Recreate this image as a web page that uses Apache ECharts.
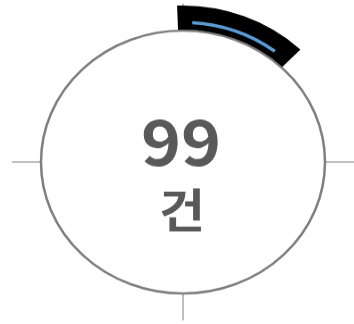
<!DOCTYPE html>
<html>
<head>
<meta charset="utf-8">
<script src="https://cdn.jsdelivr.net/npm/echarts@6/dist/echarts.min.js"></script>
<style>
  html, body { margin: 0; padding: 0; background: #fff; overflow: hidden; }
  /* 원본 그림이 세로로 살짝 눌려 있어서 350 높이로 그리고 줄임 */
  #chartDom { width: 354px; height: 350px; transform: scaleY(0.9257); transform-origin: 0 0; }
</style>
</head>
<body>
<div id="chartDom"></div>
<script>
// 데이터
const count = 99;
const unit = "건";
const outerArc = [46];   // 검은 호 (각도)
const innerGap = [5.5];  // 파란 선 앞 빈 구간
const innerArc = [34];   // 파란 선 (각도)
const cats = ["a"];

const center = [183, 175];

let myChart = echarts.init(document.getElementById("chartDom"));
myChart.setOption({
  animation: false,
  polar: [
    { center: center, radius: 142 },
    { center: center, radius: [143, 169] },
    { center: center, radius: [149, 152.5] }
  ],
  angleAxis: [
    {
      polarIndex: 0,
      type: "value",
      min: 0,
      max: 360,
      interval: 90,
      startAngle: 90,
      axisLine: { lineStyle: { color: "#7f7f7f", width: 2.5 } },
      axisTick: { show: true, length: 29, lineStyle: { color: "#bfbfbf", width: 2 } },
      axisLabel: { show: false },
      splitLine: { show: false }
    },
    { polarIndex: 1, type: "value", min: 0, max: 360, startAngle: 92, show: false },
    { polarIndex: 2, type: "value", min: 0, max: 360, startAngle: 92, show: false }
  ],
  radiusAxis: [
    { polarIndex: 0, type: "value", show: false },
    { polarIndex: 1, type: "category", data: cats, show: false },
    { polarIndex: 2, type: "category", data: cats, show: false }
  ],
  series: [
    {
      type: "bar",
      coordinateSystem: "polar",
      polarIndex: 1,
      barWidth: "100%",
      data: outerArc,
      itemStyle: { color: "#000" },
      silent: true
    },
    {
      type: "bar",
      coordinateSystem: "polar",
      polarIndex: 2,
      stack: "line",
      barWidth: "100%",
      data: innerGap,
      itemStyle: { color: "rgba(0,0,0,0)" },
      silent: true
    },
    {
      type: "bar",
      coordinateSystem: "polar",
      polarIndex: 2,
      stack: "line",
      barWidth: "100%",
      data: innerArc,
      itemStyle: { color: "#5b9bd5" },
      silent: true
    }
  ],
  graphic: [
    {
      type: "text",
      x: 181,
      y: 153,
      style: {
        text: String(count),
        font: 'bold 68px "Noto Sans CJK KR"',
        fill: "#595959",
        textAlign: "center",
        textVerticalAlign: "middle",
        align: "center",
        verticalAlign: "middle"
      }
    },
    {
      type: "text",
      x: 182,
      y: 227,
      style: {
        text: unit,
        font: 'bold 50px "Noto Sans CJK KR"',
        fill: "#595959",
        textAlign: "center",
        textVerticalAlign: "middle",
        align: "center",
        verticalAlign: "middle"
      }
    }
  ]
});
</script>
</body>
</html>
